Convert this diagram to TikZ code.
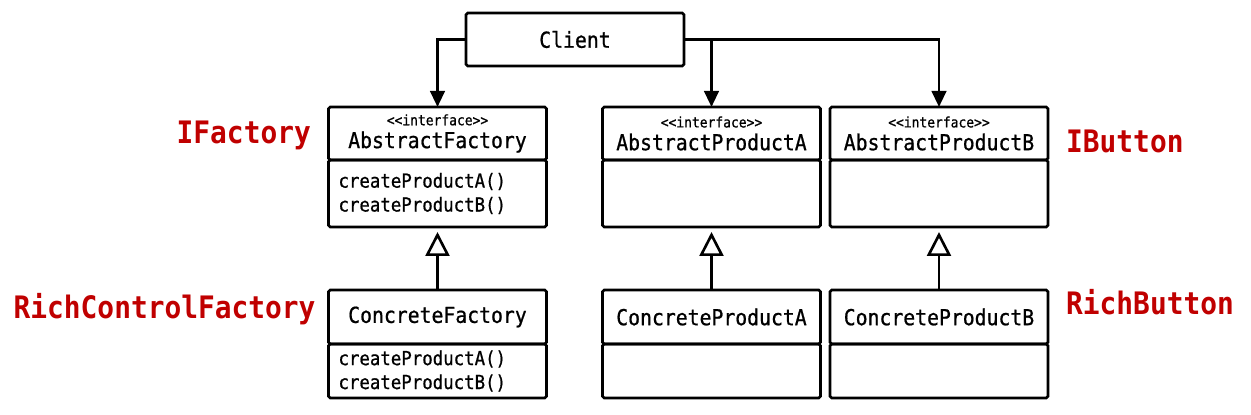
\documentclass[tikz,border=0pt]{standalone}
\definecolor{labelred}{RGB}{192, 0, 0}
\usepackage{fontspec}
\newfontfamily\umlfont{DejaVu Sans Mono}[FakeStretch=0.9, FakeBold=0.8]
\newfontfamily\aliasfont{DejaVu Sans Mono Bold}[FakeStretch=0.9]
\usepackage{tikz}
\usetikzlibrary{arrows.meta, positioning}
\newcommand{\stereo}{\fontsize{8.2}{9}\selectfont}

\begin{document}
\begin{tikzpicture}[
        usearr/.style={-{Triangle[length=3.2mm, width=2.9mm]}, line width=1.5pt},
        inherit/.style={-{Triangle[open, length=4.8mm, width=4.8mm]}, line width=1.5pt,
                        shorten >=1mm},
        umlhead/.style={draw, line width=1.5pt, rounded corners=1pt, outer sep=0pt,
                        minimum width=4.36cm, minimum height=1.06cm, align=center,
                        font=\umlfont\fontsize{12.5}{13}\selectfont},
        umlbody/.style={draw, line width=1.5pt, rounded corners=1pt, outer sep=0pt,
                        inner xsep=0.2cm, text width=3.96cm, align=left,
                        font=\umlfont\fontsize{11}{13.6}\selectfont},
        alias/.style={text=labelred, font=\aliasfont\fontsize{17.6}{20}\selectfont}
      ]
        \useasboundingbox (0, 0) rectangle (25.02, 8.28);

        \node[umlhead] (client) at (11.5, 7.49) {Client};

        \node[umlhead] (afhead) at (8.75, 5.61)
              {{\stereo <<interface>>}\\AbstractFactory};
        \node[umlbody, minimum height=1.34cm, below=0pt of afhead] (afbody)
              {createProductA()\\createProductB()};
        \node[umlhead] (pahead) at (14.23, 5.61)
              {{\stereo <<interface>>}\\AbstractProductA};
        \node[umlbody, minimum height=1.34cm, below=0pt of pahead] (pabody) {};
        \node[umlhead] (pbhead) at (18.78, 5.61)
              {{\stereo <<interface>>}\\AbstractProductB};
        \node[umlbody, minimum height=1.34cm, below=0pt of pbhead] (pbbody) {};

        \node[umlhead, minimum height=1.08cm] (cfhead) at (8.75, 1.94)
              {ConcreteFactory};
        \node[umlbody, minimum height=1.08cm, below=0pt of cfhead] (cfbody)
              {createProductA()\\createProductB()};
        \node[umlhead, minimum height=1.08cm] (cahead) at (14.23, 1.94)
              {ConcreteProductA};
        \node[umlbody, minimum height=1.08cm, below=0pt of cahead] (cabody) {};
        \node[umlhead, minimum height=1.08cm] (cbhead) at (18.78, 1.94)
              {ConcreteProductB};
        \node[umlbody, minimum height=1.08cm, below=0pt of cbhead] (cbbody) {};

        \node[alias, anchor=east] (ifactory) at (6.34, 5.58) {IFactory};
        \node[alias, anchor=west] (richfactory) at (0.15, 2.1) {RichControlFactory};
        \node[alias, anchor=west] (ibutton) at (21.2, 5.46) {IButton};
        \node[alias, anchor=west] (richbutton) at (21.2, 2.24) {RichButton};

        \draw[usearr] (client.west) -| (afhead.north);
        \draw[usearr] (client.east) -| (pahead.north);
        \draw[usearr] (client.east) -| (pbhead.north);

        \draw[inherit] (cfhead.north) -- (afbody.south);
        \draw[inherit] (cahead.north) -- (pabody.south);
        \draw[inherit] (cbhead.north) -- (pbbody.south);
      \end{tikzpicture}
\end{document}
